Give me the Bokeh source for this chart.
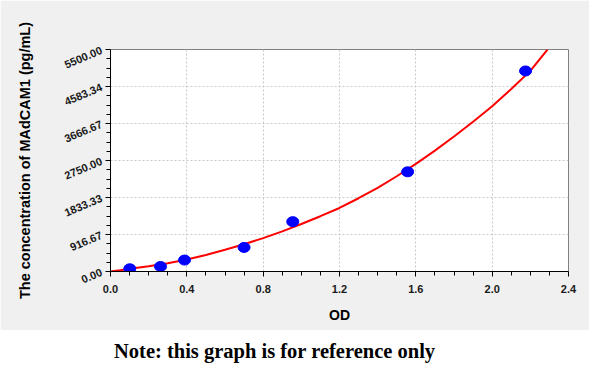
from bokeh.plotting import figure
from bokeh.models import Range1d, FixedTicker, Div
from bokeh.layouts import column
from bokeh.embed import file_html
from bokeh.resources import INLINE

# ---- data ----
od_pts = [0.101, 0.262, 0.388, 0.700, 0.955, 1.557, 2.175]
conc_pts = [67, 124, 283, 596, 1235, 2469, 4968]

curve_od = [0.0, 0.05, 0.1, 0.2, 0.3, 0.4, 0.5, 0.6, 0.7, 0.8, 0.9, 1.0, 1.1, 1.2, 1.3,
            1.4, 1.5, 1.6, 1.7, 1.8, 1.9, 2.0, 2.1, 2.2, 2.29]
curve_conc = [0, 30, 66, 132, 207, 298, 410, 540, 675, 828, 995, 1176, 1370, 1574, 1815,
              2071, 2360, 2667, 2995, 3346, 3710, 4092, 4520, 4970, 5500]

x_ticks = [0.0, 0.4, 0.8, 1.2, 1.6, 2.0, 2.4]
x_tick_labels = ["0.0", "0.4", "0.8", "1.2", "1.6", "2.0", "2.4"]
y_ticks = [0.0, 916.67, 1833.33, 2750.0, 3666.67, 4583.34, 5500.0]
y_tick_labels = ["0.00", "916.67", "1833.33", "2750.00", "3666.67", "4583.34", "5500.00"]

x_title = "OD"
y_title = "The concentration of MAdCAM1 (pg/mL)"
note = "Note: this graph is for reference only"

GRAY = "#f0f0f0"

p = figure(width=589, height=330, output_backend="svg", toolbar_location=None,
           x_range=Range1d(0, 2.4), y_range=Range1d(0, 5500),
           min_border_left=110, min_border_right=21, min_border_top=49, min_border_bottom=59)
p.background_fill_color = "white"
p.border_fill_color = GRAY
p.outline_line_color = "#808080"
p.outline_line_width = 1

x_minor = [round(i * 0.1, 2) for i in range(25) if i % 4 != 0]
y_minor = [i * 5500 / 24 for i in range(25) if i % 4 != 0]
p.xaxis.ticker = FixedTicker(ticks=x_ticks, minor_ticks=x_minor)
p.yaxis.ticker = FixedTicker(ticks=y_ticks, minor_ticks=y_minor)
p.xaxis.major_label_overrides = {t: s for t, s in zip(x_ticks, x_tick_labels)}
p.yaxis.major_label_overrides = {t: s for t, s in zip(y_ticks, y_tick_labels)}

for ax in (p.xaxis[0], p.yaxis[0]):
    ax.axis_line_color = "#000000"
    ax.major_tick_line_color = "#000000"
    ax.minor_tick_line_color = "#000000"
    ax.major_tick_in = 0
    ax.major_tick_out = 5
    ax.minor_tick_in = 0
    ax.minor_tick_out = 4
    ax.major_label_text_font = "Liberation Sans"
    ax.major_label_text_font_style = "bold"
    ax.major_label_text_font_size = "11px"
    ax.major_label_text_color = "#1a1a1a"
    ax.axis_label_text_font = "Liberation Sans"
    ax.axis_label_text_font_style = "bold"
    ax.axis_label_text_color = "#000000"

p.yaxis.major_label_orientation = 0.4
p.xaxis.axis_label = x_title
p.yaxis.axis_label = y_title
p.xaxis.axis_label_text_font_size = "14px"
p.yaxis.axis_label_text_font_size = "14.5px"
p.xaxis.major_label_standoff = 8
p.xaxis.axis_label_standoff = 11
p.yaxis.major_label_standoff = 4
p.yaxis.axis_label_standoff = 26

p.xgrid.grid_line_color = "#c8c8c8"
p.ygrid.grid_line_color = "#c8c8c8"
p.xgrid.grid_line_dash = "2 2"
p.ygrid.grid_line_dash = "2 2"

p.line(curve_od, curve_conc, line_color="#ff0000", line_width=2)
p.ellipse(x=od_pts, y=conc_pts, width=12, height=10, width_units="screen",
          height_units="screen", fill_color="#0000ff", line_color="#0000ff")

div = Div(text=note, width=584, height=35,
          styles={"font-family": "Liberation Serif", "font-weight": "bold",
                  "font-size": "20.5px", "padding-left": "109px", "padding-top": "2px",
                  "color": "#000000", "background-color": "white"})

layout = column(p, div, spacing=0)
open("out.html", "w").write(file_html(layout, INLINE))
